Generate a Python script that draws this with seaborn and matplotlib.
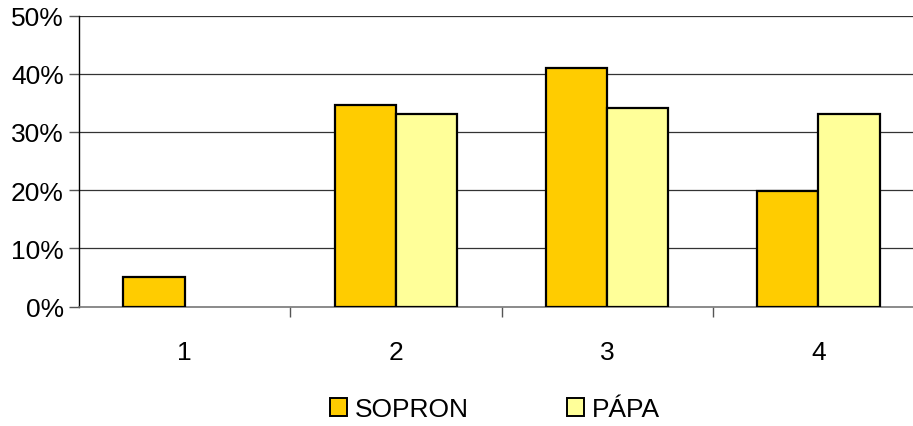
import matplotlib
matplotlib.use("Agg")
import matplotlib.pyplot as plt
from matplotlib.patches import Patch
from matplotlib.ticker import PercentFormatter, FixedLocator
import seaborn as sns
import pandas as pd

categories = ["1", "2", "3", "4"]
series_names = ["SOPRON", "PÁPA"]
sopron = [0.050, 0.347, 0.409, 0.198]
papa = [0.0, 0.330, 0.341, 0.330]
y_ticks = [0.0, 0.1, 0.2, 0.3, 0.4, 0.5]
colors = {"SOPRON": "#FFCC00", "PÁPA": "#FFFF99"}

df = pd.DataFrame({
    "kategoria": categories * 2,
    "csoport": [series_names[0]] * 4 + [series_names[1]] * 4,
    "arany": sopron + papa,
})

sns.set_style("white")
plt.rcParams["font.family"] = ["Liberation Sans", "DejaVu Sans"]
plt.rcParams["text.color"] = "black"
plt.rcParams["xtick.color"] = "black"
plt.rcParams["ytick.color"] = "black"

fs = 19

fig = plt.figure(figsize=(9.13, 4.27), dpi=100)
ax = fig.add_axes([79 / 913, 119.5 / 427, 845 / 913, 291 / 427])

sns.barplot(data=df, x="kategoria", y="arany", hue="csoport",
            order=categories, hue_order=series_names, palette=colors,
            saturation=1, width=0.58, edgecolor="black", linewidth=1.6,
            legend=False, ax=ax, zorder=3)

# zero-height bars leave no visible mark
for bar in ax.patches:
    if bar.get_height() == 0:
        bar.set_linewidth(0)

ax.set_xlim(-0.5, 3.5)
ax.set_ylim(0, 0.5)
ax.yaxis.set_major_locator(FixedLocator(y_ticks))
ax.yaxis.set_major_formatter(PercentFormatter(1.0, decimals=0))
ax.set_xlabel("")
ax.set_ylabel("")

for y in y_ticks[1:]:
    ax.axhline(y, color="#333333", linewidth=0.9, zorder=1)

for side in ("top", "right"):
    ax.spines[side].set_visible(False)
ax.spines["left"].set_color("black")
ax.spines["left"].set_linewidth(1.0)
ax.spines["bottom"].set_color("#777777")
ax.spines["bottom"].set_linewidth(1.2)

ax.tick_params(axis="y", which="major", left=True, length=7, width=1.0,
               color="#555555", labelsize=fs, labelcolor="black", pad=4)
ax.tick_params(axis="x", which="major", length=0, labelsize=fs,
               labelcolor="black", pad=24)
ax.xaxis.set_minor_locator(FixedLocator([0.5, 1.5, 2.5]))
ax.tick_params(axis="x", which="minor", bottom=True, length=7, width=1.0,
               color="#555555")

handles = [Patch(facecolor=colors[n], edgecolor="black", linewidth=1.4, label=n)
           for n in series_names]
fig.legend(handles=handles, loc="center",
           bbox_to_anchor=(495 / 913, 1 - 410 / 427),
           ncol=2, frameon=False, fontsize=fs, handlelength=0.65,
           handleheight=0.65, handletextpad=0.3, columnspacing=3.7)

fig.savefig("out.png", dpi=100)
